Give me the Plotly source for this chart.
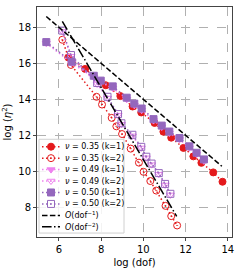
import plotly.graph_objects as go

# ---- data (log(dof), log(eta^2)) ----
x_035_k1 = [6.44, 7.24, 8.22, 8.91, 9.49, 9.90, 10.53, 10.95, 11.32, 11.90, 12.37, 12.75, 13.31, 13.75]
y_035_k1 = [16.36, 15.72, 14.81, 14.21, 13.63, 13.30, 12.72, 12.23, 11.90, 11.33, 10.86, 10.50, 9.97, 9.45]

x_035_k2 = [6.16, 6.57, 7.78, 8.04, 8.50, 8.72, 8.99, 9.40, 9.79, 10.01, 10.33, 10.61, 11.05, 11.32, 11.60]
y_035_k2 = [17.34, 15.94, 14.17, 13.74, 13.00, 12.53, 12.10, 11.29, 10.51, 10.00, 9.49, 8.96, 8.11, 7.54, 7.02]

x_049_k1 = [5.40, 6.60, 7.65, 7.98, 8.55, 9.21, 9.57, 9.92, 10.48, 10.87, 11.23, 11.71, 12.18, 12.52, 12.87]
y_049_k1 = [17.15, 16.05, 15.25, 14.98, 14.66, 14.03, 13.70, 13.43, 12.85, 12.49, 12.16, 11.80, 11.34, 10.98, 10.61]

x_049_k2 = [6.16, 6.57, 7.81, 8.30, 8.80, 8.96, 9.48, 9.90, 10.14, 10.39, 10.73, 11.03, 11.28]
y_049_k2 = [17.80, 16.42, 14.88, 14.10, 13.15, 12.64, 12.00, 11.33, 10.78, 10.40, 9.87, 9.27, 8.72]

x_050_k1 = [5.40, 6.60, 7.65, 7.98, 8.55, 9.21, 9.57, 9.92, 10.48, 10.87, 11.23, 11.71, 12.18, 12.52, 12.87]
y_050_k1 = [17.21, 16.12, 15.34, 15.07, 14.75, 14.12, 13.79, 13.52, 12.93, 12.57, 12.24, 11.88, 11.42, 11.06, 10.69]

x_050_k2 = [6.16, 6.57, 7.81, 8.30, 8.80, 8.96, 9.48, 9.90, 10.14, 10.39, 10.73, 11.03, 11.28]
y_050_k2 = [17.85, 16.49, 14.94, 14.17, 13.21, 12.70, 12.06, 11.39, 10.84, 10.46, 9.93, 9.33, 8.78]

x_ref1 = [5.40, 13.72]
y_ref1 = [18.63, 10.31]
x_ref2 = [6.16, 11.58]
y_ref2 = [18.36, 7.52]

x_ticks = [6, 8, 10, 12, 14]
y_ticks = [8, 10, 12, 14, 16, 18]

RED = "#e41a1c"
PINK = "#ee82ee"
PURPLE = "#9467bd"

DOT = "1.5px,2.5px"
DASH = "5.5px,2.4px"
DASHDOT = "9.6px,2.4px,1.5px,2.4px"

series = [
    (x_035_k1, y_035_k1, "<i>ν</i> = 0.35 (k=1)", RED, "circle", DOT),
    (x_035_k2, y_035_k2, "<i>ν</i> = 0.35 (k=2)", RED, "circle-open-dot", DOT),
    (x_049_k1, y_049_k1, "<i>ν</i> = 0.49 (k=1)", PINK, "triangle-down", DOT),
    (x_049_k2, y_049_k2, "<i>ν</i> = 0.49 (k=2)", PINK, "triangle-down-open-dot", DOT),
    (x_050_k1, y_050_k1, "<i>ν</i> = 0.50 (k=1)", PURPLE, "square", DOT),
    (x_050_k2, y_050_k2, "<i>ν</i> = 0.50 (k=2)", PURPLE, "square-open-dot", DOT),
    (x_ref1, y_ref1, "<i>O</i>(dof<sup>−1</sup>)", "black", None, DASH),
    (x_ref2, y_ref2, "<i>O</i>(dof<sup>−2</sup>)", "black", None, DASHDOT),
]

# plot area in pixels of the 240x272 figure
PL, PR, PT, PB = 37, 232, 6, 239
# compact legend layout (pixel units on an overlay axis)
LEG_BOX = (39, 124, 140, 235)
LEG_ROW0, LEG_ROW_STEP = 147.5, 11.6
LEG_LINE = (42, 60)
LEG_TEXT_X = 63

fig = go.Figure()

for x, y, name, color, symbol, dash in series:
    if symbol:
        fig.add_trace(go.Scatter(
            x=x, y=y, name=name, mode="lines+markers", showlegend=False,
            line=dict(color=color, width=1.5, dash=dash),
            marker=dict(color=color, symbol=symbol, size=7, line=dict(color=color, width=1)),
        ))
    else:
        fig.add_trace(go.Scatter(
            x=x, y=y, name=name, mode="lines", showlegend=False,
            line=dict(color=color, width=1.5, dash=dash),
        ))

# legend background box on overlay axis
bx0, bx1, by0, by1 = LEG_BOX
fig.add_trace(go.Scatter(
    x=[bx0, bx1, bx1, bx0, bx0], y=[by0, by0, by1, by1, by0],
    xaxis="x2", yaxis="y2", mode="lines", fill="toself",
    fillcolor="rgba(255,255,255,0.85)", line=dict(color="#d0d0d0", width=1),
    showlegend=False, hoverinfo="skip",
))

for i, (x, y, name, color, symbol, dash) in enumerate(series):
    ry = LEG_ROW0 + i * LEG_ROW_STEP
    fig.add_trace(go.Scatter(
        x=list(LEG_LINE), y=[ry, ry], xaxis="x2", yaxis="y2", mode="lines",
        line=dict(color=color, width=1.5, dash=dash), showlegend=False, hoverinfo="skip",
    ))
    if symbol:
        fig.add_trace(go.Scatter(
            x=[(LEG_LINE[0] + LEG_LINE[1]) / 2], y=[ry], xaxis="x2", yaxis="y2", mode="markers",
            marker=dict(color=color, symbol=symbol, size=7, line=dict(color=color, width=1)),
            showlegend=False, hoverinfo="skip",
        ))
    fig.add_annotation(x=LEG_TEXT_X, y=ry, xref="x2", yref="y2", text=name,
                       showarrow=False, xanchor="left", yanchor="middle",
                       font=dict(size=8, color="black"))

axis_common = dict(
    showline=True, linecolor="#444", linewidth=1, mirror=True,
    showgrid=True, gridcolor="#b0b0b0", griddash="dash", gridwidth=0.8,
    ticks="outside", ticklen=3, tickcolor="#444", zeroline=False,
    tickfont=dict(size=10, color="black"),
)

fig.update_layout(
    width=240, height=272,
    margin=dict(l=PL, r=240 - PR, t=PT, b=272 - PB),
    paper_bgcolor="white", plot_bgcolor="white",
    font=dict(family="DejaVu Sans", size=10, color="black"),
    showlegend=False,
    hovermode=False,
    xaxis=dict(range=[4.96, 14.2], tickvals=x_ticks,
               title=dict(text="log (dof)", font=dict(size=10), standoff=4), **axis_common),
    yaxis=dict(range=[6.38, 19.16], tickvals=y_ticks,
               title=dict(text="log (<i>η</i><sup>2</sup>)", font=dict(size=10), standoff=4), **axis_common),
    xaxis2=dict(overlaying="x", range=[PL, PR], visible=False, fixedrange=True),
    yaxis2=dict(overlaying="y", range=[PB, PT], visible=False, fixedrange=True),
)

fig.write_html("out.html", config={"displayModeBar": False},
               post_script="document.body.style.margin='0';")
